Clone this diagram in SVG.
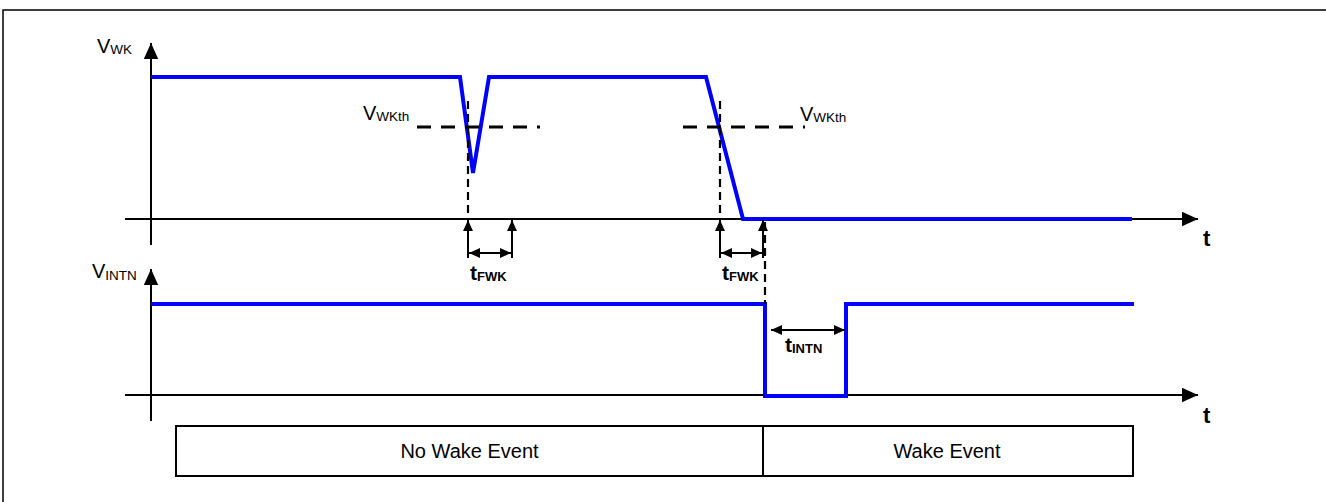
<svg xmlns="http://www.w3.org/2000/svg" width="1326" height="502" viewBox="0 0 1326 502">
<defs>
<marker id="ah" viewBox="0 0 10 10" refX="10" refY="5" markerWidth="11" markerHeight="11" markerUnits="userSpaceOnUse" orient="auto"><path d="M0,0.5 L10,5 L0,9.5 z" fill="#000"/></marker>
<marker id="big" viewBox="0 0 10 10" refX="10" refY="5" markerWidth="16" markerHeight="16" markerUnits="userSpaceOnUse" orient="auto"><path d="M0,0.5 L10,5 L0,9.5 z" fill="#000"/></marker>
</defs>
<style>
.ax{stroke:#000;stroke-width:2;fill:none}
.sig{stroke:#0000ff;stroke-width:4;fill:none;stroke-linejoin:miter}
.thr{stroke:#000;stroke-width:3;fill:none;stroke-dasharray:14 10}
.vd{stroke:#000;stroke-width:2.2;fill:none;stroke-dasharray:8 5}
.dim{stroke:#000;stroke-width:2;fill:none}
.lbl{font-family:"Liberation Sans",Arial,sans-serif;font-size:20px;fill:#000}
.sub{font-size:13.5px}
.bt{font-family:"Liberation Sans",Arial,sans-serif;font-weight:bold;font-size:22px;fill:#000}
.bsub{font-size:13px}
.box{stroke:#000;stroke-width:2;fill:#fff}
</style>
<rect x="3" y="10" width="1400" height="600" fill="none" stroke="#000" stroke-width="1.5"/>
<g id="axes">
<line class="ax" x1="151" y1="245" x2="151" y2="43" marker-end="url(#big)"/>
<line class="ax" x1="125" y1="219" x2="1198" y2="219" marker-end="url(#big)"/>
<line class="ax" x1="151" y1="421" x2="151" y2="269" marker-end="url(#big)"/>
<line class="ax" x1="125" y1="395" x2="1198" y2="395" marker-end="url(#big)"/>
<text class="lbl" x="97" y="53">V<tspan class="sub" dy="1">WK</tspan></text>
<text class="lbl" x="92" y="278">V<tspan class="sub" dy="2">INTN</tspan></text>
<text class="bt" x="1203" y="246">t</text>
<text class="bt" x="1203" y="423">t</text>
</g>
<g id="vwk-signal">
<polyline class="sig" points="151,77 460,77 473,173 489,77 706,77 743,219 1132,219"/>
</g>
<g id="vintn-signal">
<polyline class="sig" points="151,304 765,304 765,396 846,396 846,304 1134,304"/>
</g>
<g id="thresholds">
<line class="thr" x1="417" y1="127" x2="540" y2="127"/>
<line class="thr" x1="683" y1="127" x2="805" y2="127"/>
<text class="lbl" x="363" y="120">V<tspan class="sub" dy="1">WKth</tspan></text>
<text class="lbl" x="800" y="121">V<tspan class="sub" dy="1">WKth</tspan></text>
</g>
<g id="connectors">
<line class="vd" x1="468" y1="101" x2="468" y2="219"/>
<line class="vd" x1="720" y1="101" x2="720" y2="219"/>
<line class="vd" x1="765" y1="222" x2="765" y2="304"/>
<line class="dim" x1="468" y1="258" x2="468" y2="220" marker-end="url(#ah)"/>
<line class="dim" x1="512" y1="258" x2="512" y2="220" marker-end="url(#ah)"/>
<line class="dim" x1="490" y1="253" x2="469" y2="253" marker-end="url(#ah)"/>
<line class="dim" x1="490" y1="253" x2="511" y2="253" marker-end="url(#ah)"/>
<line class="dim" x1="720" y1="258" x2="720" y2="220" marker-end="url(#ah)"/>
<line class="dim" x1="763" y1="258" x2="763" y2="220" marker-end="url(#ah)"/>
<line class="dim" x1="741" y1="253" x2="721" y2="253" marker-end="url(#ah)"/>
<line class="dim" x1="741" y1="253" x2="762" y2="253" marker-end="url(#ah)"/>
<line class="dim" x1="808" y1="330" x2="771" y2="330" marker-end="url(#ah)"/>
<line class="dim" x1="808" y1="330" x2="845" y2="330" marker-end="url(#ah)"/>
</g>
<g id="labels">
<text class="bt" x="470" y="280" style="font-size:21px">t<tspan class="bsub" dy="1">FWK</tspan></text>
<text class="bt" x="722" y="280" style="font-size:21px">t<tspan class="bsub" dy="1">FWK</tspan></text>
<text class="bt" x="785" y="352" style="font-size:21px">t<tspan class="bsub" dy="1">INTN</tspan></text>
</g>
<g id="no-wake-event">
<rect class="box" x="176" y="426" width="587" height="50"/>
<text class="lbl" x="469.5" y="458" text-anchor="middle">No Wake Event</text>
</g>
<g id="wake-event">
<rect class="box" x="763" y="426" width="370" height="50"/>
<text class="lbl" x="947" y="458" text-anchor="middle">Wake Event</text>
</g>
</svg>
